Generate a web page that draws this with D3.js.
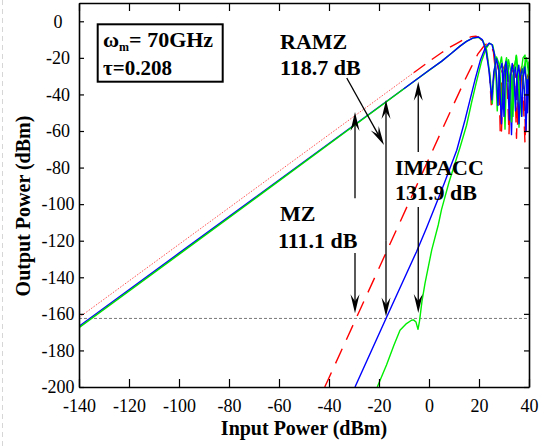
<!DOCTYPE html>
<html>
<head>
<meta charset="utf-8">
<script src="https://cdn.jsdelivr.net/npm/d3@7"></script>
<style>
  body { margin: 0; background: #fff; }
  svg { display: block; }
  svg text { font-family: "Liberation Serif", "Times New Roman", Times, "DejaVu Serif", serif; }
</style>
</head>
<body>
<svg id="chart" width="550" height="447"></svg>
<script>
// ------------------------------------------------------------
// Data
// ------------------------------------------------------------
const inputTicks = [-140, -120, -100, -80, -60, -40, -20, 0, 20, 40];
const outputTicks = [-200, -180, -160, -140, -120, -100, -80, -60, -40, -20, 0];
const noiseFloor = -162.5;

// MZ fundamental: thin dotted part, then dashed part near compression
const mzFundLow = [[-140, -162], [-100, -122], [-60, -82], [-20, -42], [-6, -28]];
const mzFundHigh = [
  [-6, -28], [0, -22], [5, -17.2], [8, -14.5], [11, -12.2], [14, -9.8], [17, -8.4], [18.7, -8.2],
  [20, -8.8], [21.5, -11], [23, -17], [24.2, -28], [25, -48], [25.6, -34], [26.5, -25], [27.5, -23],
  [28.4, -33], [29, -60], [29.6, -36], [30.5, -25], [31.5, -28], [32.1, -55], [32.8, -30], [33.8, -24],
  [34.8, -31], [35.4, -58], [36, -31], [37, -25], [38, -38], [38.7, -63], [39.3, -36], [40, -27]
];
const ramzFund = [
  [-140, -166.8], [-100, -126.8], [-60, -86.8], [-15, -41.8], [0, -26.8], [5, -21.9], [9, -17.5],
  [12.4, -13.6], [15, -11], [17.5, -9.2], [19.8, -8.6], [21.3, -10], [22.8, -16], [24, -27], [25.1, -43],
  [25.9, -28], [27, -20.5], [28, -27], [29, -56], [29.8, -30], [30.8, -22], [31.5, -30], [32.1, -54],
  [32.6, -30], [33.3, -23], [34, -30], [34.6, -49], [35.1, -31], [35.9, -24], [36.5, -32], [37.1, -52],
  [37.6, -32], [38.3, -25], [38.9, -33], [39.4, -50], [40, -30]
];
// IMPACC fundamental: low part (sits just under RAMZ) and high part
const impaccFundLow = [[-140, -167.6], [-100, -127.5], [-60, -87.3], [-20, -47.0], [-10, -36.9]];
const impaccFundHigh = [
  [-10, -36.9], [0, -26.9], [5, -21.9], [9, -17.5],
  [12.4, -13.6], [15, -11], [17.5, -9.2], [19.8, -8.8], [21.5, -10.5], [23, -15.5], [24.4, -30],
  [25.3, -45], [26, -28], [27, -19.5], [28.2, -24], [29.2, -48], [30, -27], [31, -20], [32.2, -32],
  [33, -55], [33.8, -27], [35, -19], [36.3, -40], [37, -52], [37.8, -26], [39, -20], [40, -30]
];
// third-order intermodulation
const mzImd = [
  [-41.7, -200], [-30, -165], [-17, -126], [-5, -90], [5, -60], [10, -45], [14.4, -32], [17, -24.8],
  [19.5, -18], [22, -13.5], [23.5, -11.8], [24.8, -12.5], [25.8, -17], [26.4, -25], [27.1, -22],
  [27.9, -27], [28.5, -61], [29.2, -27], [30.4, -24], [31.4, -38], [32, -62], [32.6, -29], [33.8, -26],
  [34.5, -40], [35, -64], [35.6, -31], [36.8, -27], [37.8, -45], [38.4, -67], [39.1, -31], [40, -28]
];
const ramzImd = [
  [-29.6, -200], [-17.2, -162.5], [-5, -126], [-1, -113], [2.4, -101.4], [6, -89], [11.1, -70.5],
  [14.4, -54], [16.4, -43], [18.4, -32], [20.5, -21.5], [22.5, -14.5], [24, -12], [25.2, -12.8],
  [26.2, -18], [27, -30], [27.6, -46], [28.2, -27], [29.2, -23], [30, -52], [30.6, -27], [31.6, -24],
  [32.3, -35], [33, -62], [33.6, -30], [34.5, -25], [35.3, -34], [36, -56], [36.6, -30], [37.4, -26],
  [38.2, -38], [38.8, -60], [39.4, -32], [40, -34]
];
const impaccImd = [
  [-20.7, -200], [-17, -188], [-14, -177], [-11.6, -169], [-9, -165.3], [-7, -163.5], [-6.2, -163.3],
  [-5.2, -164.5], [-4.4, -168.5], [-3.8, -164], [-2.8, -153], [-1.6, -143.3], [1.1, -125],
  [3.7, -111.4], [5, -103], [8, -88], [12.4, -69], [15, -57], [17.1, -44], [19, -33], [21, -22],
  [22.8, -15], [24.3, -12], [25.5, -13], [26.5, -20], [27.3, -49], [28, -26], [29, -19.5], [29.8, -30],
  [30.4, -59], [31, -28], [31.8, -21], [32.8, -28], [33.6, -52], [34.2, -26], [34.9, -18.5],
  [35.5, -30], [36, -58], [36.7, -30], [37.6, -20], [38.4, -18.5], [39.2, -45], [40, -22]
];

// arrows in data units: [xFrom, yFrom, xTo, yTo] (head at "To")
const arrows = [
  [-29.6, -96.8, -29.6, -49.6],
  [-29.6, -126.7, -29.6, -159.7],
  [-17.2, -120, -17.2, -43],
  [-17.2, -120, -17.2, -161.5],
  [-4.3, -71.5, -4.3, -33],
  [-4.3, -101.5, -4.3, -159.5],
  [-32.9, -31, -18, -67.6]
];

const serif = '"Liberation Serif", "Times New Roman", Times, "DejaVu Serif", serif';

// ------------------------------------------------------------
// Chart
// ------------------------------------------------------------
const svg = d3.select('#chart');
const x = d3.scaleLinear().domain([-140, 40]).range([79, 529]);
const y = d3.scaleLinear().domain([-200, 10]).range([387, 3]);

// faint page edge on the far left
svg.append('line')
  .attr('x1', 2.5).attr('x2', 2.5).attr('y1', 0).attr('y2', 447)
  .attr('stroke', '#d6d6d6').attr('stroke-dasharray', '5,4');

svg.append('clipPath').attr('id', 'plot-clip')
  .append('rect').attr('x', 79).attr('y', 3).attr('width', 450).attr('height', 384);

const plot = svg.append('g').attr('clip-path', 'url(#plot-clip)');
const line = d3.line().x(d => x(d[0])).y(d => y(d[1]));

// noise floor
plot.append('line')
  .attr('x1', x(-140)).attr('x2', x(40))
  .attr('y1', y(noiseFloor)).attr('y2', y(noiseFloor))
  .attr('stroke', '#555').attr('stroke-width', 0.8).attr('stroke-dasharray', '3,2');

function drawCurve(data, color, width, dash) {
  plot.append('path')
    .datum(data)
    .attr('d', line)
    .attr('fill', 'none')
    .attr('stroke', color)
    .attr('stroke-width', width)
    .attr('stroke-linejoin', 'round')
    .attr('stroke-dasharray', dash);
}

drawCurve(mzFundLow, '#ff4040', 0.9, '1.5,1.5');
drawCurve(mzFundHigh, '#ff0000', 1.4, '14,8');
drawCurve(mzImd, '#ff0000', 1.4, '16,10');
drawCurve(impaccImd, '#00ee00', 1.4, null);
drawCurve(ramzImd, '#0000ff', 1.4, null);
drawCurve(impaccFundHigh, '#00ee00', 1.5, null);
drawCurve(ramzFund, '#0000ff', 1.4, null);
drawCurve(impaccFundLow, '#00dd00', 1.5, null);

// ------------------------------------------------------------
// Axes (box with inward ticks)
// ------------------------------------------------------------
function styleAxis(g) {
  g.attr('font-size', null).attr('font-family', serif);
  g.select('.domain').attr('stroke', '#000').attr('stroke-width', 1.6);
  g.selectAll('.tick line').attr('stroke', '#000').attr('stroke-width', 1.2);
  g.selectAll('.tick text').attr('font-size', 18).attr('font-family', serif).attr('fill', '#000');
}

svg.append('g')
  .attr('transform', 'translate(0,387)')
  .call(d3.axisBottom(x).tickValues(inputTicks).tickSize(-8).tickSizeOuter(0)
    .tickPadding(12).tickFormat(d => String(d)))
  .call(styleAxis);

svg.append('g')
  .attr('transform', 'translate(79,0)')
  .call(d3.axisLeft(y).tickValues(outputTicks).tickSize(-5).tickSizeOuter(0)
    .tickFormat(d => String(d)))
  .call(styleAxis)
  .call(g => g.selectAll('.tick text').attr('text-anchor', 'middle').attr('x', -21));

svg.append('g')
  .attr('transform', 'translate(0,3)')
  .call(d3.axisTop(x).tickValues(inputTicks).tickSize(-8).tickSizeOuter(0).tickFormat(''))
  .call(styleAxis);

svg.append('g')
  .attr('transform', 'translate(529,0)')
  .call(d3.axisRight(y).tickValues(outputTicks).tickSize(-5).tickSizeOuter(0).tickFormat(''))
  .call(styleAxis);

// axis titles
svg.append('text')
  .attr('x', 304).attr('y', 435)
  .attr('text-anchor', 'middle')
  .attr('font-family', serif)
  .attr('font-size', 20).attr('font-weight', 'bold')
  .text('Input Power (dBm)');

svg.append('text')
  .attr('transform', 'translate(30,206) rotate(-90)')
  .attr('text-anchor', 'middle')
  .attr('font-family', serif)
  .attr('font-size', 20).attr('font-weight', 'bold')
  .text('Output Power (dBm)');

// ------------------------------------------------------------
// Arrows
// ------------------------------------------------------------
const arrowG = svg.append('g');
arrows.forEach(([x1, y1, x2, y2]) => {
  const px1 = x(x1), py1 = y(y1), px2 = x(x2), py2 = y(y2);
  const len = Math.hypot(px2 - px1, py2 - py1);
  const ux = (px2 - px1) / len, uy = (py2 - py1) / len;
  const headLen = 19, half = 4.5, notch = 7;
  const bx = px2 - ux * headLen, by = py2 - uy * headLen;
  arrowG.append('line')
    .attr('x1', px1).attr('y1', py1)
    .attr('x2', px2 - ux * (headLen - notch)).attr('y2', py2 - uy * (headLen - notch))
    .attr('stroke', '#000').attr('stroke-width', 1.3);
  const pts = [
    [px2, py2],
    [bx - uy * half, by + ux * half],
    [px2 - ux * (headLen - notch), py2 - uy * (headLen - notch)],
    [bx + uy * half, by - ux * half]
  ];
  arrowG.append('polygon')
    .attr('points', pts.map(p => p.join(',')).join(' '))
    .attr('fill', '#000');
});

// ------------------------------------------------------------
// Labels
// ------------------------------------------------------------
function label(txt, px, py, size) {
  svg.append('text')
    .attr('x', px).attr('y', py)
    .attr('font-family', serif)
    .attr('font-size', size).attr('font-weight', 'bold')
    .text(txt);
}
label('RAMZ', 280, 49, 22);
label('118.7 dB', 280, 75, 22);
label('IMPACC', 395, 175, 22);
label('131.9 dB', 395, 200, 22);
label('MZ', 280, 221, 22);
label('111.1 dB', 278, 248, 22);

// parameter box
svg.append('rect')
  .attr('x', 97.7).attr('y', 24.3).attr('width', 125).attr('height', 57.4)
  .attr('fill', '#fff').attr('stroke', '#000').attr('stroke-width', 2);

const omega = svg.append('text')
  .attr('x', 103).attr('y', 47)
  .attr('font-family', serif)
  .attr('font-size', 22).attr('font-weight', 'bold');
omega.append('tspan').text('ω');
omega.append('tspan').attr('font-size', 12).attr('dy', 4).text('m');
omega.append('tspan').attr('dy', -4).text('= 70GHz');

label('τ=0.208', 103, 75, 21);
</script>
</body>
</html>
